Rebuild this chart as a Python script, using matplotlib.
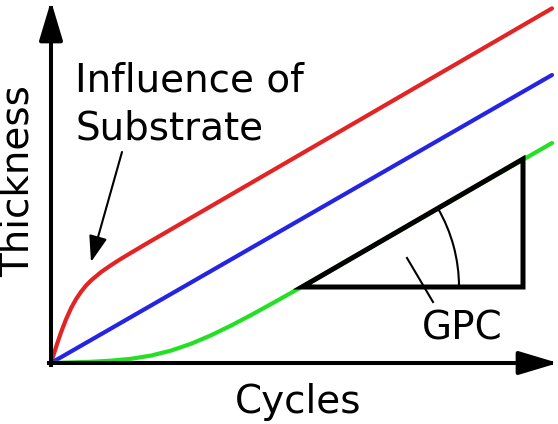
"""
Schematic of ALD growth: film thickness vs. number of cycles,
showing substrate-enhanced, linear and substrate-inhibited growth.
"""

import matplotlib
matplotlib.use('Agg')  # Non-interactive backend
import matplotlib.pyplot as plt
from matplotlib.patches import Arc, Polygon

# Curves (x = cycles, y = thickness, arbitrary units)
red_x = [0, 3, 6, 10, 15, 20, 25, 30, 35, 40, 50, 60, 70, 80, 95, 501]
red_y = [0, 9.5, 18.9, 30.6, 43.6, 54.7, 63.8, 71.2, 77.4, 82.5, 90.9, 97.8, 104.2, 110.2, 119.1, 354.6]

blue_x = [0, 501]
blue_y = [0, 288]

green_x = [0, 20, 40, 60, 80, 100, 120, 140, 160, 180, 200, 220, 240, 260, 501]
green_y = [0, 0.6, 1.2, 2.3, 4.2, 7.4, 12.4, 19.2, 27.7, 37.4, 47.9, 58.9, 70.1, 81.4, 220]

# Slope triangle (growth per cycle)
tri_x = [251, 472, 472]
tri_y = [76, 204, 76]
gpc_angle = 30.1
gpc_radius = 157

RED = '#e22424'
BLUE = '#2424e2'
GREEN = '#24e024'

fig = plt.figure(figsize=(5.58, 4.24), dpi=100)
ax = fig.add_axes([0, 0, 1, 1])
ax.set_xlim(-51, 507)
ax.set_ylim(-61, 363)
ax.axis('off')

# Axes arrows
arrow_kw = dict(arrowstyle='-|>,head_length=1.2,head_width=0.36',
                mutation_scale=20, lw=2.9, color='black',
                shrinkA=0, shrinkB=0, capstyle='projecting')
ax.annotate('', xy=(0, 362), xytext=(0, -2), arrowprops=arrow_kw)
ax.annotate('', xy=(507, 0), xytext=(-2, 0), arrowprops=arrow_kw)

# Growth curves
ax.plot(red_x, red_y, color=RED, lw=3, solid_capstyle='round', solid_joinstyle='round')
ax.plot(blue_x, blue_y, color=BLUE, lw=3, solid_capstyle='round')
ax.plot(green_x, green_y, color=GREEN, lw=3, solid_capstyle='round', solid_joinstyle='round')

# GPC triangle with angle arc
ax.add_patch(Polygon(list(zip(tri_x, tri_y)), closed=True, fill=False,
                     edgecolor='black', lw=3.6, joinstyle='miter', zorder=4))
ax.add_patch(Arc((tri_x[0], tri_y[0]), 2 * gpc_radius, 2 * gpc_radius,
                 theta1=0, theta2=gpc_angle, color='black', lw=1.5, zorder=4))
ax.plot([356, 382], [105, 61], color='black', lw=1.5, zorder=4)
ax.text(371, 24, 'GPC', fontsize=28, ha='left', va='baseline')

# Labels
ax.text(24, 271, 'Influence of', fontsize=28, ha='left', va='baseline')
ax.text(24, 223, 'Substrate', fontsize=28, ha='left', va='baseline')
ax.annotate('', xy=(40, 101), xytext=(71, 211),
            arrowprops=dict(arrowstyle='-|>,head_length=0.8,head_width=0.28',
                            mutation_scale=20, lw=1.5, color='black',
                            shrinkA=0, shrinkB=0))

ax.text(247, -50, 'Cycles', fontsize=28, ha='center', va='baseline')
ax.text(-33, 182, 'Thickness', fontsize=28, rotation=90, ha='center', va='center')

fig.savefig('out.png', dpi=100)
plt.close(fig)
